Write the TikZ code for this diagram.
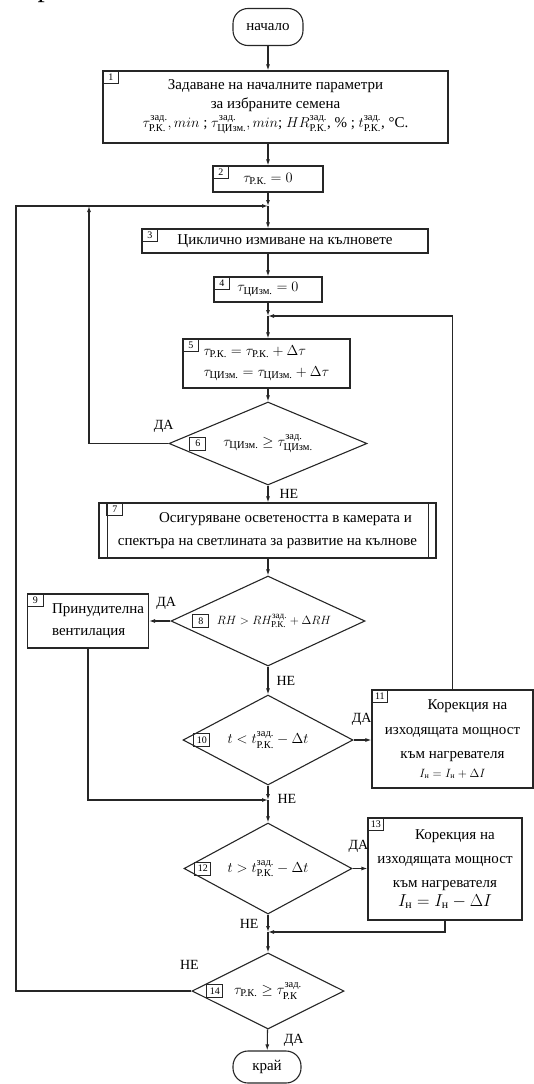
\documentclass[tikz,border=0pt]{standalone}
\usepackage{amsmath}
\usepackage{fontspec}
\setmainfont{Liberation Serif}
\usetikzlibrary{shapes.geometric, arrows.meta, calc}

\newcommand{\zad}{\text{зад.}}
\newcommand{\RK}{\text{Р.К.}}
\newcommand{\CI}{\text{ЦИзм.}}

\begin{document}
\begin{tikzpicture}[
    x=1pt, y=-1pt,
    font=\fontsize{15}{19}\selectfont,
    % Block styling
    block/.style={draw=black!85, line width=1.1pt, rectangle, inner sep=1pt, align=center},
    terminal/.style={draw=black!85, line width=1.1pt, rectangle, rounded corners=15pt, inner sep=1pt},
    decision/.style={draw=black!85, line width=1.1pt, diamond, shape aspect=2.3, inner sep=0pt, align=center},
    numbox/.style={draw=black!85, line width=0.9pt, rectangle, inner sep=1pt, minimum width=16pt, minimum height=13pt, font=\fontsize{10}{10}\selectfont},
    lbl/.style={inner sep=2pt, font=\fontsize{14}{14}\selectfont},
    % Arrow styling
    arrow/.style={-{Latex[length=6pt,width=4pt]}, line width=1.1pt, draw=black!85},
    line/.style={line width=1.1pt, draw=black!85}
]
\useasboundingbox (0,0) rectangle (534,1084);

% ---------------------------------------------------
% 1. NODES
% ---------------------------------------------------

% text of the page above the chart
\node[anchor=base west, inner sep=0pt, font=\fontsize{29}{29}\selectfont] (prevline) at (22,-3) {прат от блок 11 и 13.};

\node[terminal, minimum width=70pt, minimum height=37pt] (start) at (268,27) {начало};
\node[block, minimum width=345pt, minimum height=72pt] (init) at (275.5,107) {Задаване на началните параметри\\за избраните семена\\$\tau^{\zad}_{\RK}, min$ ; $\tau^{\zad}_{\CI}, min$; $HR^{\zad}_{\RK}$, \% ; $t^{\zad}_{\RK}$, °C.};
\node[block, minimum width=110pt, minimum height=26pt] (resetr) at (268,179) {$\tau_{\RK} = 0$};
\node[block, minimum width=286pt, minimum height=24pt] (wash) at (285,241) {Циклично измиване на кълновете};
\node[block, minimum width=108pt, minimum height=25pt] (resetc) at (268,289.5) {$\tau_{\CI} = 0$};
\node[block, minimum width=167pt, minimum height=49pt, align=left] (stepbox) at (266.5,363.5) {$\tau_{\RK} = \tau_{\RK} + \Delta\tau$\\[2pt]$\tau_{\CI} = \tau_{\CI} + \Delta\tau$};
\node[decision, minimum width=198pt, minimum height=83pt] (checkc) at (268,443.5) {$\tau_{\CI} \ge \tau^{\zad}_{\CI}$};
\node[block, minimum width=337pt, minimum height=55pt] (light) at (267.5,530.5) {\hspace*{36pt}Осигуряване осветеността в камерата и\\[4pt]спектъра на светлината за развитие на кълнове};
\node[decision, minimum width=194pt, minimum height=90pt] (checkrh) at (268,621) {\fontsize{13}{15}\selectfont\hspace*{12pt}$RH > RH^{\zad}_{\RK} + \Delta RH$};
\node[block, minimum width=121pt, minimum height=54pt, align=left] (vent) at (88,621) {\hspace*{20pt}Принудителна\\[3pt]\hspace*{20pt}вентилация};
\node[decision, minimum width=170pt, minimum height=90pt] (checklow) at (268,740) {$t < t^{\zad}_{\RK} - \Delta t$};
\node[block, minimum width=161pt, minimum height=98pt] (heatup) at (452.5,739) {\hspace*{30pt}Корекция на\\[6pt]изходящата мощност\\[5pt]към нагревателя\\{\fontsize{12}{12}\selectfont$I_{\text{н}} = I_{\text{н}} + \Delta I$}};
\node[decision, minimum width=168pt, minimum height=91pt] (checkhigh) at (268,868.5) {$t > t^{\zad}_{\RK} - \Delta t$};
\node[block, minimum width=154pt, minimum height=102pt] (heatdown) at (445,869) {\hspace*{20pt}Корекция на\\[5pt]изходящата мощност\\[5pt]към нагревателя\\{\fontsize{17}{17}\selectfont$I_{\text{н}} = I_{\text{н}} - \Delta I$}};
\node[decision, minimum width=152pt, minimum height=76pt] (checkend) at (268,991) {$\tau_{\RK} \ge \tau^{\zad}_{\text{Р.К}}$};
\node[terminal, minimum width=68pt, minimum height=32pt] (stop) at (267,1067) {край};

% block numbers
\node[numbox, anchor=north west] (n1) at (init.north west) {1};
\node[numbox, anchor=north west] (n2) at (resetr.north west) {2};
\node[numbox, anchor=north west] (n3) at (wash.north west) {3};
\node[numbox, anchor=north west] (n4) at (resetc.north west) {4};
\node[numbox, anchor=north west] (n5) at (stepbox.north west) {5};
\node[numbox, anchor=west] (n6) at ([xshift=21pt]checkc.west) {6};
\node[numbox, anchor=north west] (n7) at ([xshift=8pt]light.north west) {7};
\node[numbox, anchor=west] (n8) at ([xshift=22pt]checkrh.west) {8};
\node[numbox, anchor=north west] (n9) at (vent.north west) {9};
\node[numbox, anchor=west] (n10) at ([xshift=11pt]checklow.west) {10};
\node[numbox, anchor=north west] (n11) at (heatup.north west) {11};
\node[numbox, anchor=west] (n12) at ([xshift=11pt]checkhigh.west) {12};
\node[numbox, anchor=north west] (n13) at (heatdown.north west) {13};
\node[numbox, anchor=west] (n14) at ([xshift=15pt]checkend.west) {14};

% predefined process sides
\draw[line] ([xshift=9pt]light.north west) -- ([xshift=9pt]light.south west);
\draw[line] ([xshift=-8pt]light.north east) -- ([xshift=-8pt]light.south east);

% junctions
\coordinate (j1) at (268,206);
\coordinate (j2) at (268,316);
\coordinate (j3) at (268,800);
\coordinate (j4) at (268,932);
\coordinate (inl) at (89,206);
\coordinate (outl) at (16,206);

% ---------------------------------------------------
% 2. CONNECTIONS
% ---------------------------------------------------

% main flow
\draw[arrow] (start) -- (start |- init.north);
\draw[arrow] (resetr.north |- init.south) -- (resetr.north);
\draw[arrow] (resetr) -- (j1);
\draw[arrow] (j1) -- (j1 |- wash.north);
\draw[arrow] (resetc.north |- wash.south) -- (resetc.north);
\draw[arrow] (resetc) -- (j2);
\draw[arrow] (j2) -- (j2 |- stepbox.north);
\draw[arrow] (checkc.north |- stepbox.south) -- (checkc.north);
\draw[arrow] (checkc) -- node[lbl, right, xshift=9pt] {НЕ} (checkc |- light.north);
\draw[arrow] (checkrh.north |- light.south) -- (checkrh.north);
\draw[arrow] (checkrh.west) -- node[lbl, above, pos=0.2, yshift=9pt] {ДА} (vent.east);
\draw[arrow] (checkrh) -- node[lbl, right, xshift=6pt] {НЕ} (checklow);
\draw[arrow] (checklow.east) -- node[lbl, above, pos=0.45, yshift=12pt] {ДА} (checklow.east -| heatup.west);
\draw[arrow] (checklow) -- node[lbl, right, pos=0.9, xshift=7pt] {НЕ} (j3);
\draw[arrow] (j3) -- (checkhigh);
\draw[arrow] (checkhigh.east) -- node[lbl, above, pos=0.4, yshift=13pt] {ДА} (checkhigh.east -| heatdown.west);
\draw[arrow] (checkhigh) -- node[lbl, left, pos=0.55, xshift=-7pt] {НЕ} (j4);
\draw[arrow] (j4) -- (checkend);
\draw[arrow] (checkend) -- node[lbl, right, xshift=14pt] {ДА} (stop);

% loops back
\draw[arrow] (checkc.west) -| node[lbl, above, pos=0.03, yshift=8pt] {ДА} (inl);
\draw[arrow] (vent.south) |- (j3);
\draw[arrow] (heatup.north) |- (j2);
\draw[arrow] (heatdown.south) |- (j4);
\draw[arrow] (checkend.west) -| node[lbl, anchor=south, pos=0, yshift=19pt, xshift=-2pt] {НЕ} (outl) -- (j1);

\end{tikzpicture}
\end{document}
